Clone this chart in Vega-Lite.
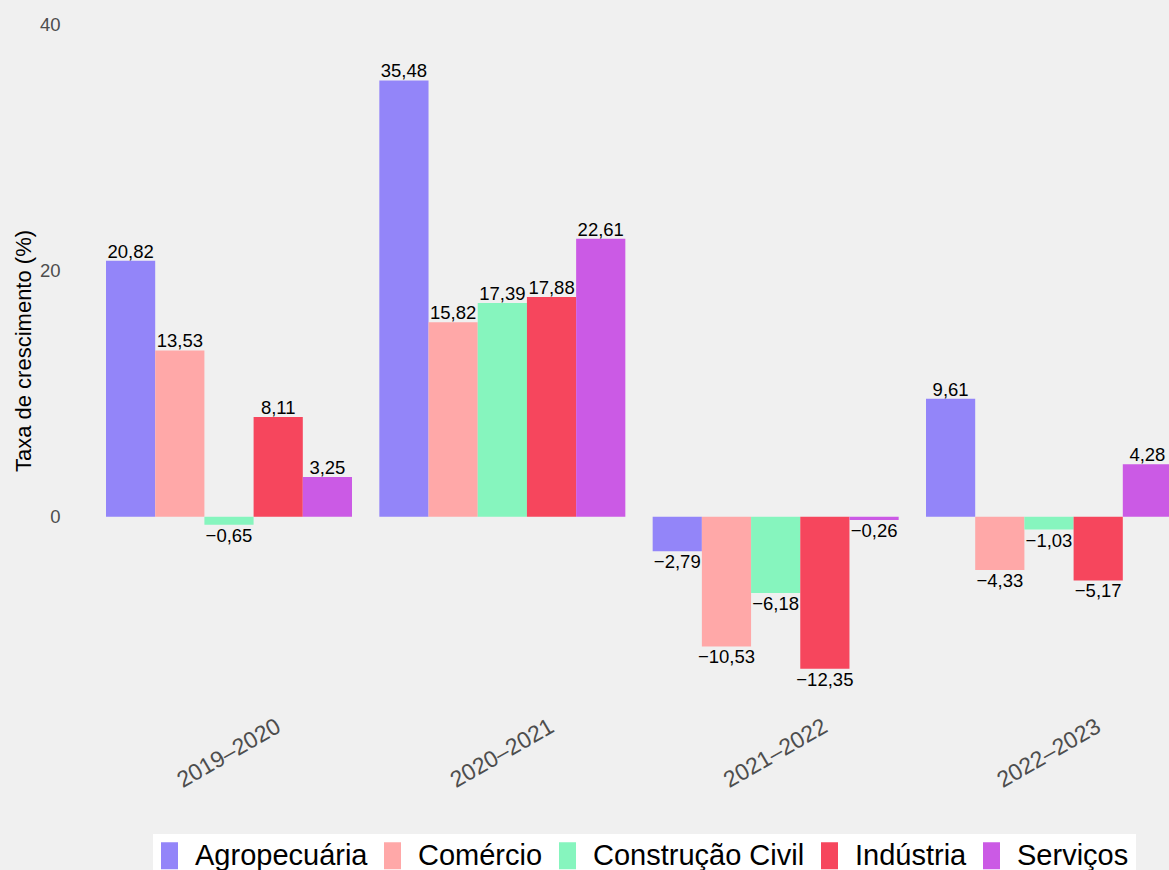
{
  "$schema": "https://vega.github.io/schema/vega-lite/v6.json",
  "width": 1104,
  "height": 701,
  "autosize": {"type": "none"},
  "padding": {"left": 65, "top": 0, "right": 0, "bottom": 169},
  "background": "#F0F0F0",
  "config": {
    "view": {"stroke": null},
    "font": "Liberation Sans",
    "locale": {"number": {"decimal": ",", "thousands": ".", "grouping": [3], "currency": ["R$", ""]}}
  },
  "data": {
    "values": [
      {"periodo": "2019–2020", "setor": "Agropecuária", "taxa": 20.82},
      {"periodo": "2019–2020", "setor": "Comércio", "taxa": 13.53},
      {"periodo": "2019–2020", "setor": "Construção Civil", "taxa": -0.65},
      {"periodo": "2019–2020", "setor": "Indústria", "taxa": 8.11},
      {"periodo": "2019–2020", "setor": "Serviços", "taxa": 3.25},
      {"periodo": "2020–2021", "setor": "Agropecuária", "taxa": 35.48},
      {"periodo": "2020–2021", "setor": "Comércio", "taxa": 15.82},
      {"periodo": "2020–2021", "setor": "Construção Civil", "taxa": 17.39},
      {"periodo": "2020–2021", "setor": "Indústria", "taxa": 17.88},
      {"periodo": "2020–2021", "setor": "Serviços", "taxa": 22.61},
      {"periodo": "2021–2022", "setor": "Agropecuária", "taxa": -2.79},
      {"periodo": "2021–2022", "setor": "Comércio", "taxa": -10.53},
      {"periodo": "2021–2022", "setor": "Construção Civil", "taxa": -6.18},
      {"periodo": "2021–2022", "setor": "Indústria", "taxa": -12.35},
      {"periodo": "2021–2022", "setor": "Serviços", "taxa": -0.26},
      {"periodo": "2022–2023", "setor": "Agropecuária", "taxa": 9.61},
      {"periodo": "2022–2023", "setor": "Comércio", "taxa": -4.33},
      {"periodo": "2022–2023", "setor": "Construção Civil", "taxa": -1.03},
      {"periodo": "2022–2023", "setor": "Indústria", "taxa": -5.17},
      {"periodo": "2022–2023", "setor": "Serviços", "taxa": 4.28}
    ]
  },
  "encoding": {
    "x": {
      "field": "periodo",
      "type": "nominal",
      "sort": null,
      "scale": {"paddingInner": 0.1, "paddingOuter": 0.15, "range": [0, 1148]},
      "axis": {
        "title": null,
        "domain": false,
        "ticks": false,
        "tickSize": 0,
        "labelAngle": -30,
        "labelAlign": "center",
        "labelBaseline": "middle",
        "labelPadding": 52,
        "labelFontSize": 23,
        "labelColor": "#4D4D4D",
        "labelFont": "Liberation Sans"
      }
    },
    "xOffset": {
      "field": "setor",
      "type": "nominal",
      "sort": null,
      "scale": {"paddingInner": 0, "paddingOuter": 0}
    },
    "y": {
      "field": "taxa",
      "type": "quantitative",
      "scale": {"domain": [-14.97, 42.02], "nice": false, "zero": false},
      "axis": {
        "title": "Taxa de crescimento (%)",
        "values": [0, 20, 40],
        "grid": false,
        "domain": false,
        "ticks": false,
        "tickSize": 0,
        "labelPadding": 5,
        "labelFontSize": 18.5,
        "labelColor": "#4D4D4D",
        "labelFont": "Liberation Sans",
        "titleFont": "Liberation Sans",
        "titleFontSize": 22,
        "titleFontWeight": "normal",
        "titleColor": "#000000",
        "titlePadding": 4
      }
    }
  },
  "layer": [
    {
      "mark": {"type": "bar"},
      "encoding": {
        "color": {
          "field": "setor",
          "type": "nominal",
          "scale": {
            "domain": ["Agropecuária", "Comércio", "Construção Civil", "Indústria", "Serviços"],
            "range": ["#9385F9", "#FFA8A8", "#86F5BE", "#F6465D", "#CB5AE5"]
          },
          "legend": {
            "title": null,
            "orient": "none",
            "legendX": 88,
            "legendY": 834,
            "direction": "horizontal",
            "fillColor": "#FFFFFF",
            "padding": 7,
            "symbolType": "M-1,-1H0.26V1H-1Z",
            "symbolSize": 729,
            "symbolStrokeWidth": 0,
            "symbolOpacity": 1,
            "labelFontSize": 29,
            "labelFont": "Liberation Sans",
            "labelColor": "#000000",
            "labelOffset": 6,
            "columnPadding": 15,
            "labelLimit": 400
          }
        }
      }
    },
    {
      "transform": [{"filter": "datum.taxa >= 0"}],
      "mark": {"type": "text", "baseline": "alphabetic", "align": "center", "dy": -3, "fontSize": 18.5, "font": "Liberation Sans", "color": "#000000"},
      "encoding": {"text": {"field": "taxa", "type": "quantitative", "format": ".2f"}}
    },
    {
      "transform": [{"filter": "datum.taxa < 0"}],
      "mark": {"type": "text", "baseline": "top", "align": "center", "dy": 2, "fontSize": 18.5, "font": "Liberation Sans", "color": "#000000"},
      "encoding": {"text": {"field": "taxa", "type": "quantitative", "format": ".2f"}}
    }
  ]
}
